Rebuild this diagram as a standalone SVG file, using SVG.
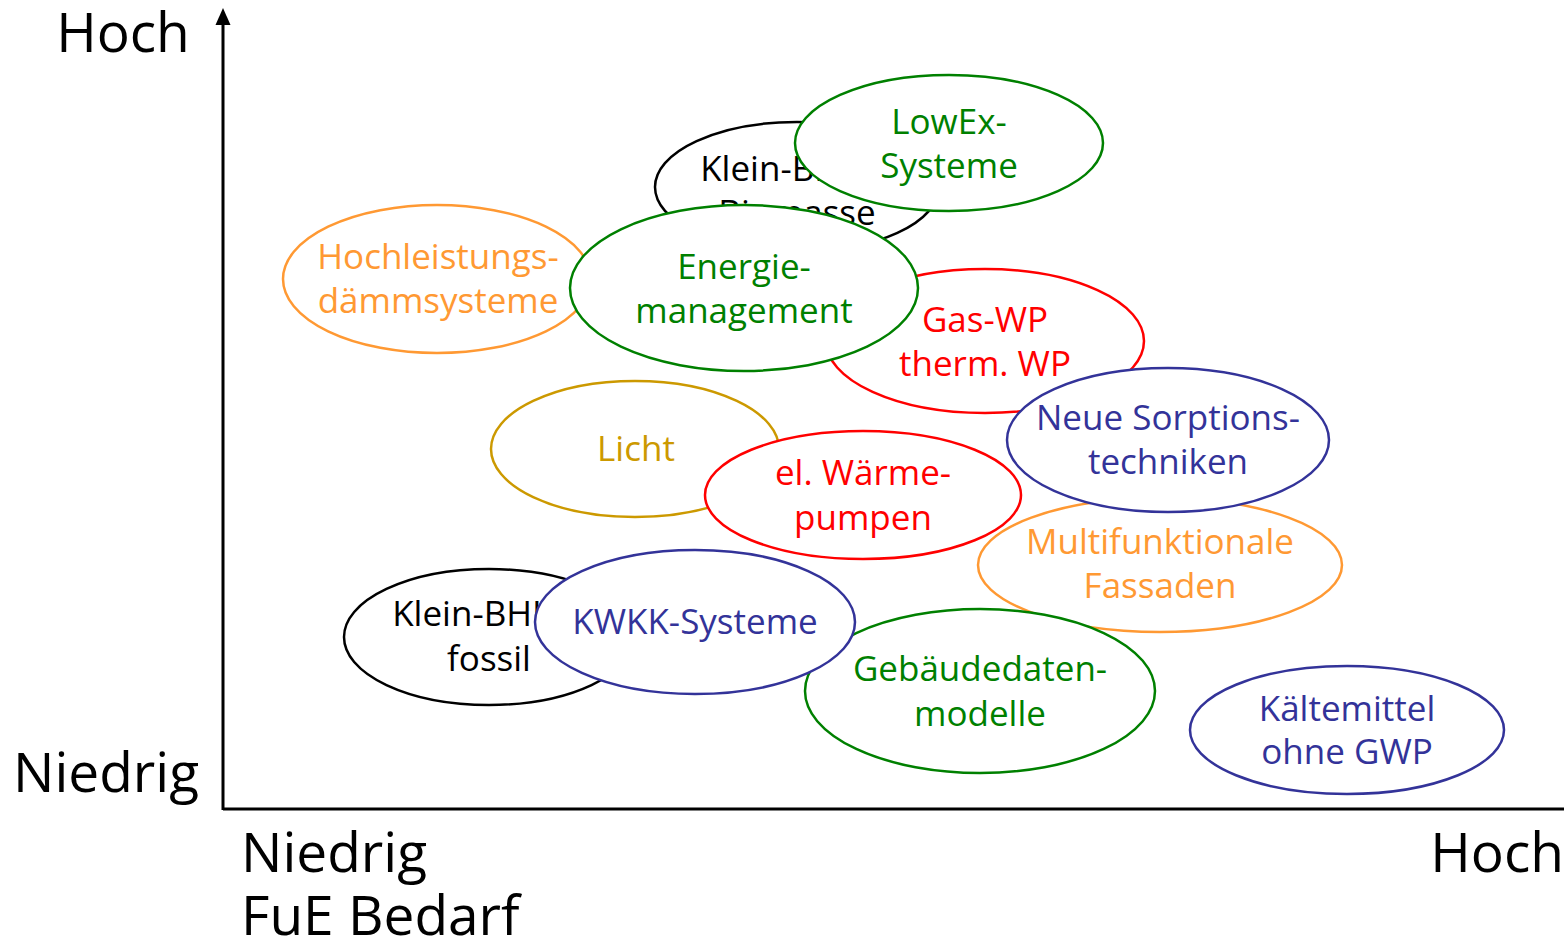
<svg xmlns="http://www.w3.org/2000/svg" width="1564" height="943" viewBox="0 0 1564 943">
<style>
text{font-family:"Open Sans","Noto Sans","Liberation Sans",sans-serif;text-anchor:middle}
.lbl{font-size:35px}
.ax{font-size:55px;fill:#000}
ellipse{fill:#fff;stroke-width:2.5}
.k{stroke:#000}.kt{fill:#000}
.g{stroke:#008000}.gt{fill:#008000}
.o{stroke:#FF9933}.ot{fill:#FF9933}
.r{stroke:#FF0000}.rt{fill:#FF0000}
.b{stroke:#333399}.bt{fill:#333399}
.y{stroke:#CC9900}.yt{fill:#CC9900}
.axis{stroke:#000;stroke-width:3;fill:none}
</style>
<rect width="1564" height="943" fill="#fff"/>
<g id="axes">
<line class="axis" x1="223" y1="809" x2="1564" y2="809"/>
<line class="axis" x1="223" y1="810" x2="223" y2="22"/>
<path d="M223 8 L215.5 25 L230.5 25 Z" fill="#000"/>
<text class="ax" x="123" y="52">Hoch</text>
<text class="ax" x="106" y="792">Niedrig</text>
<text class="ax" x="241" y="872" style="text-anchor:start">Niedrig</text>
<text class="ax" x="241" y="935" style="text-anchor:start">FuE Bedarf</text>
<text class="ax" x="1564" y="872" style="text-anchor:end">Hoch</text>
</g>
<g id="n-kleinbhkw-biomasse"><ellipse class="k" cx="797" cy="187" rx="142" ry="65"/><text class="lbl kt" x="797" y="181">Klein-BHKW</text><text class="lbl kt" x="797" y="225">Biomasse</text></g>
<g id="n-lowex"><ellipse class="g" cx="949" cy="143" rx="154" ry="68"/><text class="lbl gt" x="949" y="134">LowEx-</text><text class="lbl gt" x="949" y="178">Systeme</text></g>
<g id="n-hochleistung"><ellipse class="o" cx="437" cy="279" rx="154" ry="74"/><text class="lbl ot" x="438" y="269">Hochleistungs-</text><text class="lbl ot" x="438" y="313">dämmsysteme</text></g>
<g id="n-gaswp"><ellipse class="r" cx="985" cy="341" rx="159" ry="72"/><text class="lbl rt" x="985" y="332">Gas-WP</text><text class="lbl rt" x="985" y="376">therm. WP</text></g>
<g id="n-energie"><ellipse class="g" cx="744" cy="288" rx="174" ry="83"/><text class="lbl gt" x="744" y="279">Energie-</text><text class="lbl gt" x="744" y="323">management</text></g>
<g id="n-licht"><ellipse class="y" cx="635" cy="449" rx="144" ry="68"/><text class="lbl yt" x="636" y="461">Licht</text></g>
<g id="n-elwp"><ellipse class="r" cx="863" cy="495" rx="158" ry="64"/><text class="lbl rt" x="863" y="485">el. Wärme-</text><text class="lbl rt" x="863" y="530">pumpen</text></g>
<g id="n-multi"><ellipse class="o" cx="1160" cy="565" rx="182" ry="67"/><text class="lbl ot" x="1160" y="554">Multifunktionale</text><text class="lbl ot" x="1160" y="598">Fassaden</text></g>
<g id="n-sorption"><ellipse class="b" cx="1168" cy="440" rx="161" ry="72"/><text class="lbl bt" x="1168" y="430">Neue Sorptions-</text><text class="lbl bt" x="1168" y="474">techniken</text></g>
<g id="n-gebaeude"><ellipse class="g" cx="980" cy="691" rx="175" ry="82"/><text class="lbl gt" x="980" y="681">Gebäudedaten-</text><text class="lbl gt" x="980" y="726">modelle</text></g>
<g id="n-kleinbhkw-fossil"><ellipse class="k" cx="489" cy="637" rx="145" ry="68"/><text class="lbl kt" x="489" y="626">Klein-BHKW</text><text class="lbl kt" x="489" y="671">fossil</text></g>
<g id="n-kwkk"><ellipse class="b" cx="695" cy="622" rx="160" ry="72"/><text class="lbl bt" x="695" y="634">KWKK-Systeme</text></g>
<g id="n-kaelte"><ellipse class="b" cx="1347" cy="730" rx="157" ry="64"/><text class="lbl bt" x="1347" y="721">Kältemittel</text><text class="lbl bt" x="1347" y="764">ohne GWP</text></g>
<g id="connectors"></g>
</svg>
